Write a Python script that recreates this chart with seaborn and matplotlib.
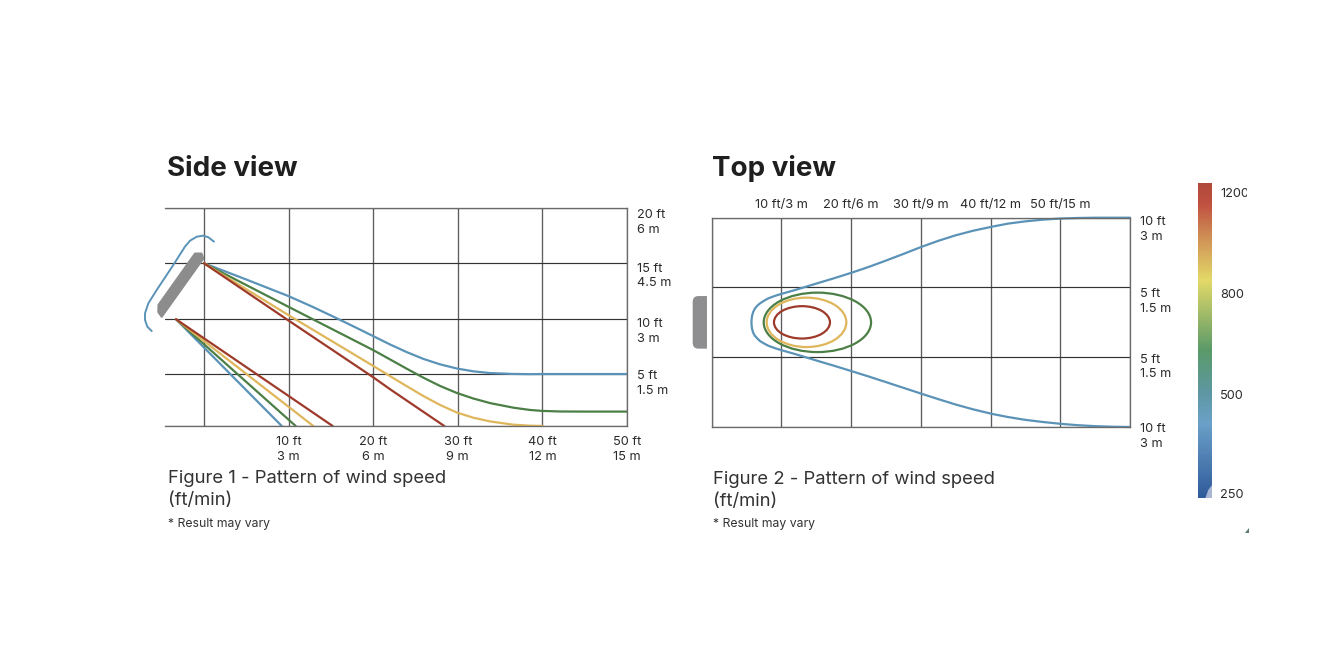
import numpy as np
import pandas as pd
import matplotlib
matplotlib.use("Agg")  # non-interactive backend
import matplotlib.pyplot as plt
from matplotlib.colors import LinearSegmentedColormap
from matplotlib.patches import Ellipse, PathPatch, Polygon
from matplotlib.path import Path
from matplotlib.transforms import Bbox, offset_copy
import seaborn as sns

W, H = 1318, 672

# side view, feet along the floor / feet above it
side_blue_x = [0, 5, 9.96, 12.8, 15.69, 18, 20.01, 21.99, 23.96, 25.92, 27.90, 29.87, 31.83,
               33.81, 36.5, 38.5, 40.04, 49.96]
side_blue_y = [14.91, 13.42, 11.91, 10.93, 9.87, 9.0, 8.23, 7.47, 6.77, 6.15, 5.65, 5.27, 5.01,
               4.85, 4.77, 4.75, 4.76, 4.76]
side_green_x = [0, 9.96, 20.01, 21.99, 23.96, 25.92, 27.90, 29.87, 31.83, 33.81, 36.56,
                38.53, 40.04, 42.08, 45, 49.96]
side_green_y = [14.91, 10.93, 6.95, 6.10, 5.25, 4.43, 3.67, 3.03, 2.52, 2.10, 1.68,
                1.47, 1.38, 1.33, 1.32, 1.32]
side_yellow_x = [0, 9.96, 20.01, 21.99, 23.96, 25.92, 27.90, 29.87, 31.83, 33.81, 36.56, 38.5, 40.04]
side_yellow_y = [14.91, 10.17, 5.50, 4.57, 3.65, 2.75, 1.93, 1.24, 0.76, 0.42, 0.12, 0.03, 0.0]
side_red_x = [0, 9.96, 20.01, 21.99, 28.40]
side_red_y = [14.91, 9.68, 4.46, 3.37, 0.0]

# lower jet, all four start at the same point
low_start = (-3.31, 9.78)
low_end_x = {"400": 9.19, "600": 10.84, "800": 12.92, "1200": 15.21}

# top view, blue envelope
top_blue_x = [60, 55, 52.5, 50.11, 47.5, 44.95, 42.5, 40.26, 37.5, 34.91, 32.5, 30.13, 27.5,
              24.87, 22.5, 20.10, 17.5, 14.84, 11.97, 9.96, 9.03, 8.14, 7.53, 6.95, 6.56, 6.24,
              5.98, 5.83, 5.75, 5.73, 5.75, 5.83, 5.98, 6.24, 6.56, 6.95, 7.53, 8.14, 9.03,
              9.96, 11.97, 14.84, 17.5, 20.10, 22.5, 24.87, 27.5, 30.13, 32.5, 34.91, 37.5,
              40.26, 42.5, 44.95, 47.5, 50.11, 52.5, 55, 57.5, 60]
top_blue_y = [15.0, 15.0, 14.96, 14.88, 14.72, 14.47, 14.15, 13.72, 13.13, 12.45, 11.68, 10.83,
              9.8, 8.8, 7.93, 7.12, 6.3, 5.5, 4.63, 4.06, 3.77, 3.44, 3.10, 2.72, 2.38, 2.01,
              1.5, 1.0, 0.45, 0.0, -0.45, -1.0, -1.5, -1.95, -2.3, -2.68, -3.03, -3.35, -3.68,
              -3.97, -4.54, -5.41, -6.2, -7.0, -7.75, -8.52, -9.38, -10.24, -11.0, -11.75,
              -12.47, -13.13, -13.57, -13.97, -14.28, -14.55, -14.74, -14.88, -14.96, -15.0]

# closed contours in the top view: centre x, length, width (ft)
ring_speed = ["600", "800", "1200"]
ring_x = [15.18, 13.62, 12.97]
ring_length = [15.39, 11.42, 8.03]
ring_width = [8.52, 7.08, 4.64]

side_x_ticks = [0, 10, 20, 30, 40, 50]
side_x_labels = ["", "10 ft\n3 m", "20 ft\n6 m", "30 ft\n9 m", "40 ft\n12 m", "50 ft\n15 m"]
side_y_ticks = [0, 4.76, 9.83, 14.91, 20]
side_y_labels = ["", "5 ft\n1.5 m", "10 ft\n3 m", "15 ft\n4.5 m", "20 ft\n6 m"]
top_x_ticks = [0, 10, 20, 30, 40, 50, 60]
top_x_labels = ["", "10 ft/3 m", "20 ft/6 m", "30 ft/9 m", "40 ft/12 m", "50 ft/15 m", ""]
top_y_ticks = [-15, -5, 5, 15]
top_y_labels = ["10 ft\n3 m", "5 ft\n1.5 m", "5 ft\n1.5 m", "10 ft\n3 m"]

scale_labels = ["250", "500", "800", "1200"]

palette = {"400": "#5b93b8", "600": "#4b7f45", "800": "#dfb65c", "1200": "#9e3a2a"}
INK = "#2b2b2b"
LABEL_SIZE = 9.2
CURVE_LW = 1.6

side = pd.concat([
    pd.DataFrame({"x": side_blue_x, "y": side_blue_y, "speed": "400", "jet": "upper"}),
    pd.DataFrame({"x": side_green_x, "y": side_green_y, "speed": "600", "jet": "upper"}),
    pd.DataFrame({"x": side_yellow_x, "y": side_yellow_y, "speed": "800", "jet": "upper"}),
    pd.DataFrame({"x": side_red_x, "y": side_red_y, "speed": "1200", "jet": "upper"}),
] + [
    pd.DataFrame({"x": [low_start[0], end], "y": [low_start[1], 0], "speed": k, "jet": "lower"})
    for k, end in low_end_x.items()
], ignore_index=True)
top = pd.DataFrame({"x": top_blue_x, "y": top_blue_y, "speed": "400"})

sns.set_theme(style="white")
plt.rcParams["font.family"] = ["Inter", "DejaVu Sans"]
plt.rcParams["text.color"] = INK


def px_axes(fig, left, top_px, right, bottom):
    return fig.add_axes([left / W, 1 - bottom / H, (right - left) / W, (bottom - top_px) / H])


def style_grid(ax):
    ax.set_axisbelow(True)
    ax.xaxis.grid(True, color="#5c5c5c", linewidth=0.95)
    ax.yaxis.grid(True, color="#333333", linewidth=0.85)
    for name, spine in ax.spines.items():
        spine.set_color("#6a6a6a")
        spine.set_linewidth(0.95)
    ax.set_xlabel("")
    ax.set_ylabel("")
    for line in ax.lines:
        line.set_clip_on(False)
        line.set_solid_joinstyle("round")


def nudge(fig, label, dy):
    label.set_transform(offset_copy(label.get_transform(), fig, y=-dy, units="dots"))


fig = plt.figure(figsize=(W / 100, H / 100), dpi=100, facecolor="white")

# 1. Side view
ax1 = px_axes(fig, 165, 207.7, 627, 426)
sns.lineplot(data=side, x="x", y="y", hue="speed", units="jet", estimator=None, sort=False,
             palette=palette, linewidth=CURVE_LW, legend=False, ax=ax1)
ax1.set_xlim(-4.61, 50)
ax1.set_ylim(0, 20)
ax1.set_xticks(side_x_ticks, side_x_labels, fontsize=LABEL_SIZE, linespacing=1.3)
ax1.yaxis.tick_right()
ax1.set_yticks(side_y_ticks, side_y_labels, fontsize=LABEL_SIZE, linespacing=1.3)
ax1.tick_params(axis="x", length=0, pad=7.5, colors=INK)
ax1.tick_params(axis="y", length=0, pad=7, colors=INK)
style_grid(ax1)
ax1.spines["left"].set_visible(False)
for label, dy in zip(ax1.get_yticklabels(), [0, 6.5, 10, 10, 12]):
    nudge(fig, label, dy)

# fan housing and its guard, they sit out past the left of the grid
ax1.add_patch(Polygon([(-1.06, 15.8), (-0.3, 15.8), (-0.08, 15.35), (-5.0, 10.01), (-5.4, 10.44), (-5.38, 11.09)],
                      closed=True, facecolor="#8c8c8c", edgecolor="#8c8c8c", linewidth=1.5,
                      joinstyle="round", clip_on=False))
guard_x = [1.18, 0.51, -0.08, -0.86, -1.65, -2.25, -3.63, -5.59, -6.58, -6.97, -6.97, -6.70, -6.18]
guard_y = [16.89, 17.29, 17.44, 17.34, 16.98, 16.43, 14.75, 12.46, 11.24, 10.33, 9.71, 9.10, 8.70]
ax1.plot(guard_x, guard_y, color="#5b93b8", linewidth=1.4, clip_on=False, solid_joinstyle="round")

# 2. Top view
ax2 = px_axes(fig, 711.5, 217.7, 1130, 427)
sns.lineplot(data=top, x="x", y="y", hue="speed", estimator=None, sort=False,
             palette=palette, linewidth=CURVE_LW, legend=False, ax=ax2)
for speed, cx, length, width in zip(ring_speed, ring_x, ring_length, ring_width):
    ax2.add_patch(Ellipse((cx, 0), length, width, fill=False, edgecolor=palette[speed], linewidth=CURVE_LW))
ax2.set_xlim(0, 60)
ax2.set_ylim(-15, 15)
ax2.xaxis.tick_top()
ax2.set_xticks(top_x_ticks, top_x_labels, fontsize=LABEL_SIZE)
ax2.yaxis.tick_right()
ax2.set_yticks(top_y_ticks, top_y_labels, fontsize=LABEL_SIZE, linespacing=1.3)
ax2.tick_params(axis="x", length=0, pad=5, colors=INK)
ax2.tick_params(axis="y", length=0, pad=7, colors=INK)
style_grid(ax2)
for label, dy in zip(ax2.get_yticklabels(), [7, 7, 11, 9]):
    nudge(fig, label, dy)

fan = Path([(-0.65, 3.77), (-1.9, 3.77), (-2.7, 3.77), (-2.7, 2.9), (-2.7, -2.9),
            (-2.7, -3.77), (-1.9, -3.77), (-0.65, -3.77), (-0.65, 3.77)],
           [Path.MOVETO, Path.LINETO, Path.CURVE3, Path.CURVE3, Path.LINETO,
            Path.CURVE3, Path.CURVE3, Path.LINETO, Path.CLOSEPOLY])
ax2.add_patch(PathPatch(fan, facecolor="#8e8e90", edgecolor="none", clip_on=False))

# 3. Colour scale, ticks are evenly spaced rather than linear in ft/min
scale_cmap = LinearSegmentedColormap.from_list("wind", [
    (0.0, "#2f5a9a"), (0.238, "#6ba0c8"), (0.333, "#5e97a3"), (0.471, "#5a9a68"),
    (0.693, "#e3d968"), (0.83, "#cf8f55"), (0.937, "#c05040"), (1.0, "#b04a3a"),
])
ax3 = px_axes(fig, 1198.3, 183.3, 1212.3, 498.3)
ramp = np.linspace(1, 0, 256).reshape(-1, 1)
sns.heatmap(ramp, cmap=scale_cmap, vmin=0, vmax=1, cbar=False, xticklabels=False, ax=ax3)
ax3.set_yticks([(1 - f) * 256 for f in [0.0137, 0.331, 0.65, 0.97]], scale_labels,
               fontsize=LABEL_SIZE, rotation=0)
ax3.yaxis.tick_right()
ax3.tick_params(axis="y", length=0, pad=5.5, colors=INK)
clip = Bbox.from_extents(1190, 0, 1247, H)
for label in ax3.get_yticklabels():
    label.set_clip_box(clip)
    label.set_clip_on(True)
ax3.add_patch(Polygon([(1.0, 256), (1.0, 245), (0.72, 249), (0.5, 256)], closed=True,
                      facecolor="#a9b6d4", edgecolor="none"))
fig.add_artist(Polygon([(1245 / W, 1 - 533 / H), (1249 / W, 1 - 533 / H), (1249 / W, 1 - 528 / H)],
                       closed=True, transform=fig.transFigure, facecolor="#5a7a70", edgecolor="none"))

# 4. Headings and captions
for x, title, caption, note, y0 in [
    (167, "Side view", "Figure 1 - Pattern of wind speed\n(ft/min)", "* Result may vary", 489.5),
    (712, "Top view", "Figure 2 - Pattern of wind speed\n(ft/min)", "* Result may vary", 490.5),
]:
    fig.text(x / W, 1 - 176 / H, title, fontsize=20, fontweight="bold", color="#1f1f1f", va="baseline")
    fig.text((x + 1) / W, 1 - y0 / H, caption, fontsize=13.3, va="center", linespacing=1.42, color="#333333")
    fig.text((x + 1) / W, 1 - (y0 + 34) / H, note, fontsize=8.8, va="center", color="#333333")

fig.savefig("out.png", dpi=100, facecolor="white")
plt.close(fig)
